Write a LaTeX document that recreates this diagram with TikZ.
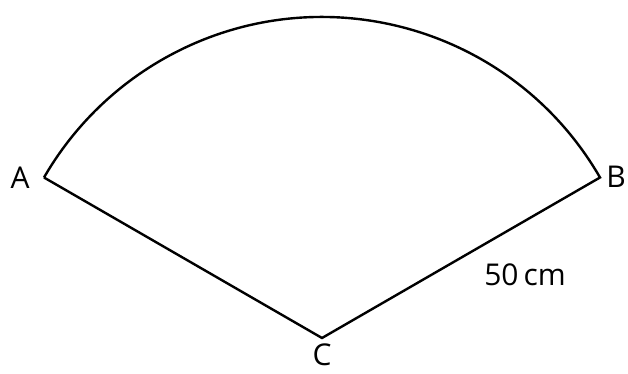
\documentclass[tikz,border=0pt]{standalone}
\usepackage{fontspec}
\setmainfont{Open Sans}
\usepackage{tikz}
\usetikzlibrary{calc}

\begin{document}
\begin{tikzpicture}[x=1pt,y=1pt,line width=2.4pt,
    lbl/.style={font=\fontsize{30}{36}\selectfont,inner sep=0pt}]
  \useasboundingbox (0,0) rectangle (628,374);
  \coordinate (C) at (322,36);
  \coordinate (A) at ($(C)+(150:321)$);
  \coordinate (B) at ($(C)+(30:321)$);
  \draw[line join=miter] (A) -- (C) -- (B) arc[start angle=30,end angle=150,radius=321];
  \node[lbl] (la) at (20,196) {A};
  \node[lbl] (lb) at (616,197) {B};
  \node[lbl] (lc) at (322,19) {C};
  \node[lbl] (len) at (525,99) {50\,cm};
\end{tikzpicture}
\end{document}
